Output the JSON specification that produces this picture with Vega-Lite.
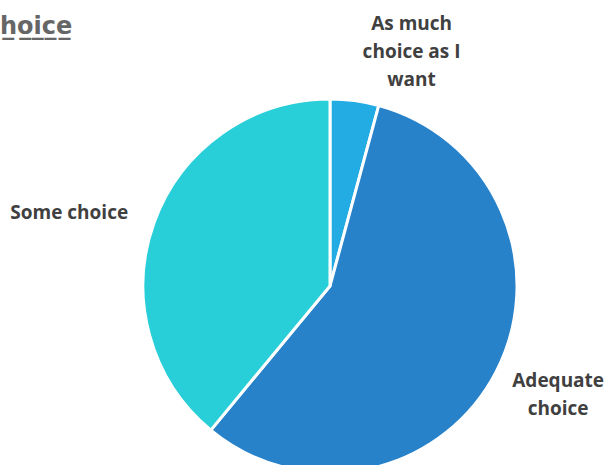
{
  "$schema": "https://vega.github.io/schema/vega-lite/v6.json",
  "autosize": "none",
  "width": 562,
  "height": 358,
  "padding": {"left": 49, "top": 107, "right": 0, "bottom": 0},
  "background": "white",
  "title": {
    "text": "h̲o̲i̲c̲e̲",
    "anchor": "start",
    "frame": "group",
    "dx": -49,
    "offset": -24,
    "font": "DejaVu Sans",
    "fontSize": 24,
    "fontWeight": "bold",
    "color": "#666666"
  },
  "data": {
    "values": [
      {"choice": "As much choice as I want", "rank": 1, "pct": 4.2},
      {"choice": "Adequate choice", "rank": 2, "pct": 56.8},
      {"choice": "Some choice", "rank": 3, "pct": 39.0}
    ]
  },
  "encoding": {
    "theta": {"field": "pct", "type": "quantitative", "stack": true},
    "order": {"field": "rank", "type": "quantitative"}
  },
  "layer": [
    {
      "mark": {"type": "arc", "outerRadius": 187, "stroke": "white", "strokeWidth": 3},
      "encoding": {
        "color": {
          "field": "choice",
          "type": "nominal",
          "scale": {
            "domain": ["As much choice as I want", "Adequate choice", "Some choice"],
            "range": ["#22ACE3", "#2882C9", "#28CED8"]
          },
          "legend": null
        }
      }
    },
    {
      "mark": {"type": "text", "radius": 240, "dx": 50, "dy": -24, "align": "center", "baseline": "middle", "lineBreak": "|", "lineHeight": 28, "font": "Open Sans", "fontSize": 19, "fontWeight": "bold", "color": "#404040"},
      "encoding": {"text": {"condition": {"test": "datum.rank == 1", "value": "As much|choice as I|want"}, "value": ""}}
    },
    {
      "mark": {"type": "text", "radius": 240, "dx": 15, "dy": -15, "align": "center", "baseline": "middle", "lineBreak": "|", "lineHeight": 28, "font": "Open Sans", "fontSize": 19, "fontWeight": "bold", "color": "#404040"},
      "encoding": {"text": {"condition": {"test": "datum.rank == 2", "value": "Adequate|choice"}, "value": ""}}
    },
    {
      "mark": {"type": "text", "radius": 240, "dx": -35, "dy": 8, "align": "center", "baseline": "middle", "font": "Open Sans", "fontSize": 19, "fontWeight": "bold", "color": "#404040"},
      "encoding": {"text": {"condition": {"test": "datum.rank == 3", "value": "Some choice"}, "value": ""}}
    }
  ]
}
